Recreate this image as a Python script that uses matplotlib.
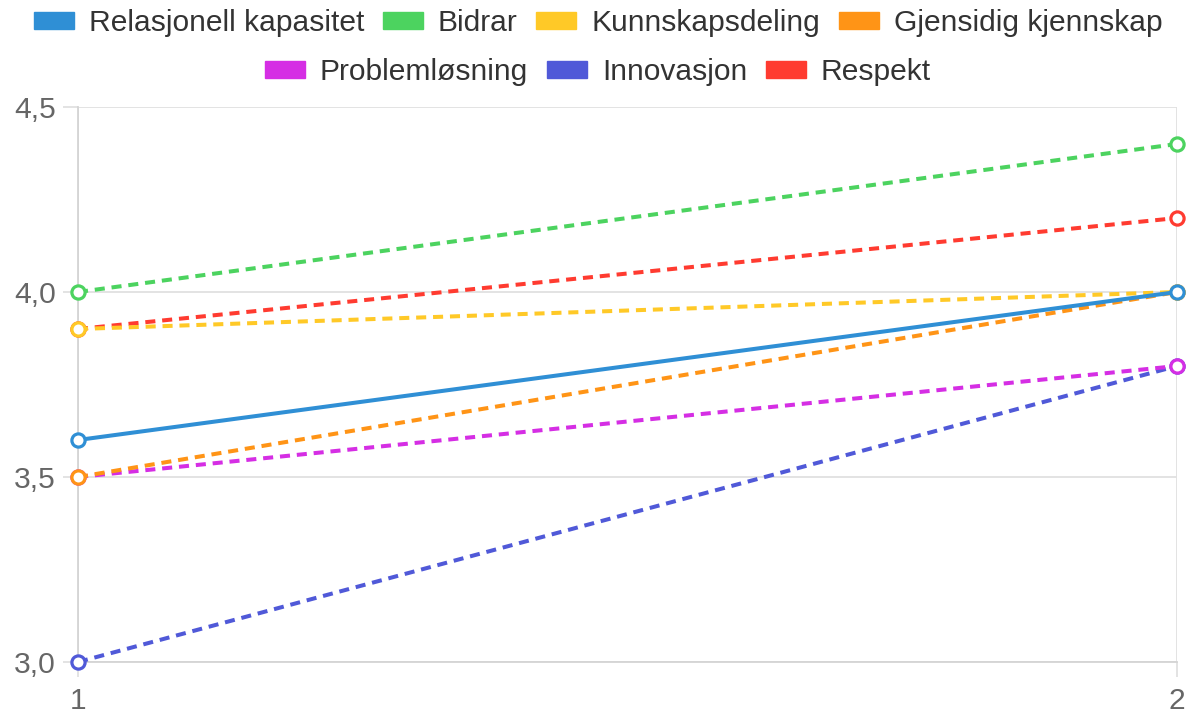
import matplotlib
matplotlib.use("Agg")
import matplotlib.pyplot as plt
from matplotlib.patches import Patch

plt.rcParams['font.family'] = ['Liberation Sans', 'DejaVu Sans']

x_labels = ["1", "2"]
series_names = ["Relasjonell kapasitet", "Bidrar", "Kunnskapsdeling", "Gjensidig kjennskap",
                "Problemløsning", "Innovasjon", "Respekt"]
relasjonell = [3.6, 4.0]
bidrar = [4.0, 4.4]
kunnskapsdeling = [3.9, 4.0]
gjensidig = [3.5, 4.0]
problemlosning = [3.5, 3.8]
innovasjon = [3.0, 3.8]
respekt = [3.9, 4.2]
values = [relasjonell, bidrar, kunnskapsdeling, gjensidig, problemlosning, innovasjon, respekt]
colors = ["#2f8fd5", "#4cd35f", "#ffc927", "#ff9416", "#d52ee4", "#5059d8", "#ff3b30"]
dashed = [False, True, True, True, True, True, True]
y_ticks = [3.0, 3.5, 4.0, 4.5]

fig = plt.figure(figsize=(11.88, 7.13), dpi=100)
ax = fig.add_axes([78/1188, 1-662/713, (1177-78)/1188, (662-107)/713])

xs = [1, 2]
n = len(series_names)
for i, (name, vals, c, d) in enumerate(zip(series_names, values, colors, dashed)):
    kw = dict(color=c, lw=2.9, marker='o', ms=9.5, mfc='white', mec=c, mew=2.3,
              clip_on=False, zorder=10 + (n - i), label=name)
    if d:
        kw['dashes'] = (2.5, 1.7)
    ax.plot(xs, vals, **kw)

ax.set_xlim(1, 2)
ax.set_ylim(3.0, 4.5)
ax.set_xticks(xs)
ax.set_xticklabels(x_labels)
ax.set_yticks(y_ticks)
ax.set_yticklabels([f"{v:.1f}".replace('.', ',') for v in y_ticks])
gc = "#e1e1e1"
ax.grid(True, color=gc, lw=1.3, zorder=0)
for s in ['top', 'right']:
    ax.spines[s].set_visible(False)
for s in ['left', 'bottom']:
    ax.spines[s].set_color("#d4d4d4")
    ax.spines[s].set_linewidth(1.3)
ax.tick_params(axis='both', length=11, width=1.3, color=gc, labelsize=21.6,
               labelcolor="#666666", pad=5)
ax.tick_params(axis='x', pad=7)

handles = [Patch(facecolor=c, edgecolor=c, linewidth=1.0, label=nm) for nm, c in zip(series_names, colors)]
common = dict(loc='center', frameon=False, fontsize=21.6, handlelength=1.33, handleheight=0.5,
              handletextpad=0.5, columnspacing=0.63, labelcolor="#333333", borderaxespad=0, borderpad=0)
leg1 = fig.legend(handles=handles[:4], ncol=4, bbox_to_anchor=(598/1188, 1-23/713), **common)
leg2 = fig.legend(handles=handles[4:], ncol=3, bbox_to_anchor=(598/1188, 1-72/713), **common)

fig.savefig("out.png", dpi=100)
